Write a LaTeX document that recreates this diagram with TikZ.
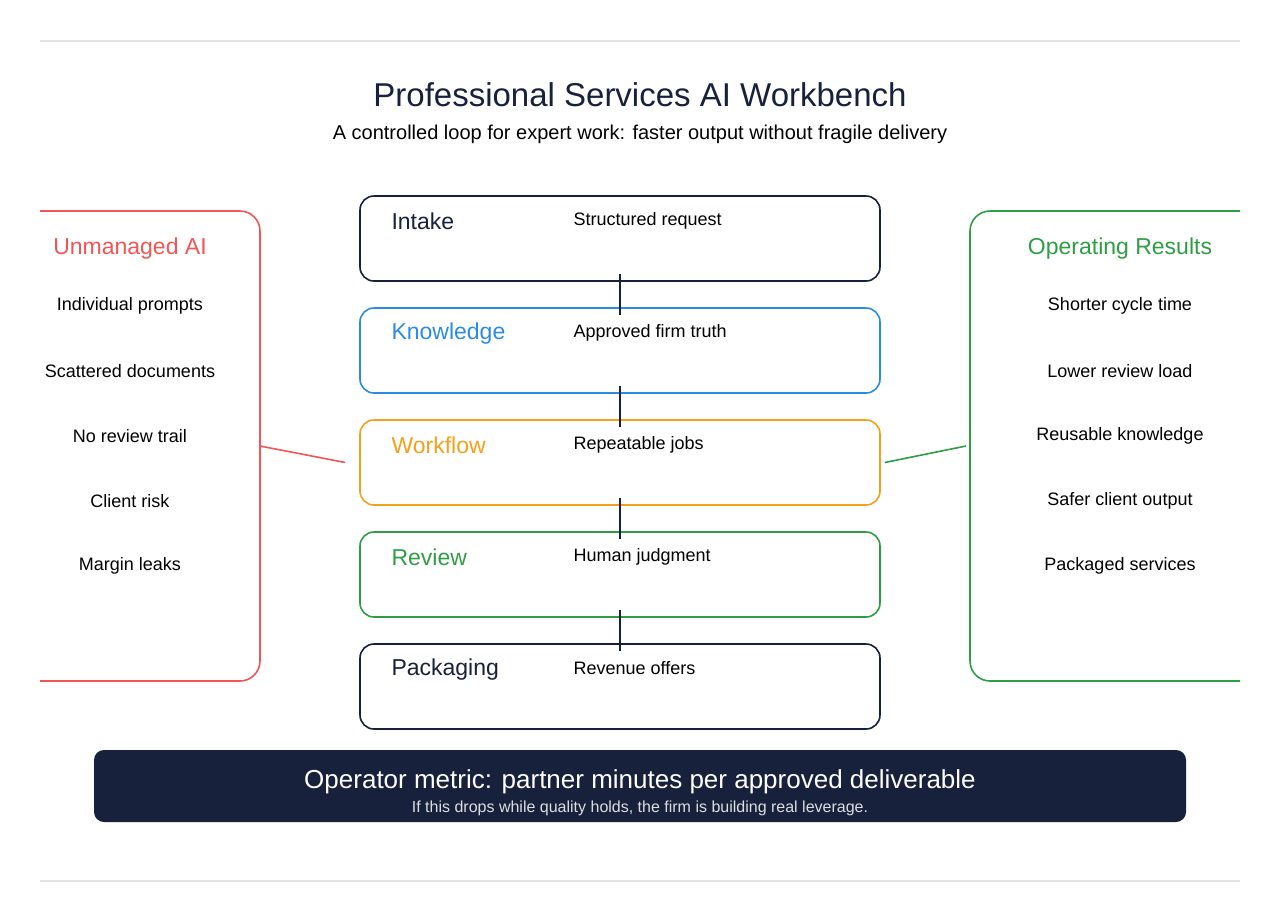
\documentclass[tikz,border=0pt]{standalone}
\usepackage{fontspec}
\setmainfont{Liberation Sans}
\definecolor{navy}{HTML}{18213B}
\definecolor{bluec}{HTML}{2B8BE3}
\definecolor{orangec}{HTML}{F5A01A}
\definecolor{greenc}{HTML}{2E9E44}
\definecolor{redc}{HTML}{F25555}
\definecolor{rule}{HTML}{E2E4E8}
\begin{document}
\begin{tikzpicture}[x=1pt,y=-1pt,
  stage/.style={draw=#1,line width=1.6pt,rounded corners=14pt,minimum width=520pt,minimum height=85pt,inner sep=0pt},
  lab/.style={anchor=west,font=\fontsize{23}{26}\selectfont},
  desc/.style={anchor=west,font=\fontsize{18}{21}\selectfont,text=black},
  item/.style={font=\fontsize{18}{21}\selectfont,text=black},
  link/.style={draw=navy,line width=1.6pt}]
\useasboundingbox (0,0) rectangle (1280,922);
\draw[rule,line width=1.5pt] (40,41) -- (1240,41);
\draw[rule,line width=1.5pt] (40,881) -- (1240,881);
\node[font=\fontsize{33}{38}\selectfont,text=navy] (title) at (640,95) {Professional Services AI Workbench};
\node[font=\fontsize{20}{24}\selectfont,text=black] (sub) at (640,134) {A controlled loop for expert work: faster output without fragile delivery};
% stages
\foreach \n/\y/\c/\l/\d in {s1/238.5/navy/Intake/Structured request, s2/350.5/bluec/Knowledge/Approved firm truth, s3/462.5/orangec/Workflow/Repeatable jobs, s4/574.5/greenc/Review/Human judgment, s5/686.5/navy/Packaging/Revenue offers}{
  \node[stage=\c] (\n) at (620,\y) {};
  \node[lab,text=\c] (\n l) at (388,\y-17) {\l};
  \node[desc] (\n d) at (570,\y-18) {\d};
}
\foreach \a/\b in {s1/s2,s2/s3,s3/s4,s4/s5}{
  \coordinate (\a x) at ([yshift=8pt]\a.south);
  \coordinate (\b x) at ([yshift=-8pt]\b.north);
  \draw[link] (\a x) -- (\b x);
}
% left panel
\draw[redc,line width=1.6pt,rounded corners=20pt] (40,211) -- (260,211) -- (260,681) -- (40,681);
\node[font=\fontsize{23}{26}\selectfont,text=redc] (lt) at (130,249) {Unmanaged AI};
\foreach \t [count=\i] in {Individual prompts,Scattered documents,No review trail,Client risk,Margin leaks}
  \node[item] (li\i) at (130,306+65*\i-65) {\t};
\coordinate (lp) at (260,446);
\draw[redc,line width=1.6pt] (lp) -- ([xshift=-14pt]s3.west);
% right panel
\draw[greenc,line width=1.6pt,rounded corners=20pt] (1240,211) -- (970,211) -- (970,681) -- (1240,681);
\node[font=\fontsize{23}{26}\selectfont,text=greenc] (rt) at (1120,249) {Operating Results};
\foreach \t [count=\i] in {Shorter cycle time,Lower review load,Reusable knowledge,Safer client output,Packaged services}
  \node[item] (ri\i) at (1120,306+65*\i-65) {\t};
\coordinate (rp) at (966,446);
\draw[greenc,line width=1.6pt] ([xshift=4pt]s3.east) -- (rp);
% bottom bar
\node[fill=navy,rounded corners=10pt,minimum width=1092pt,minimum height=72pt] (bar) at (640,786) {};
\node[font=\fontsize{26}{30}\selectfont,text=white] (m1) at (640,782) {Operator metric: partner minutes per approved deliverable};
\node[font=\fontsize{16}{19}\selectfont,text=white!85!navy] (m2) at (640,808) {If this drops while quality holds, the firm is building real leverage.};
\end{tikzpicture}
\end{document}
